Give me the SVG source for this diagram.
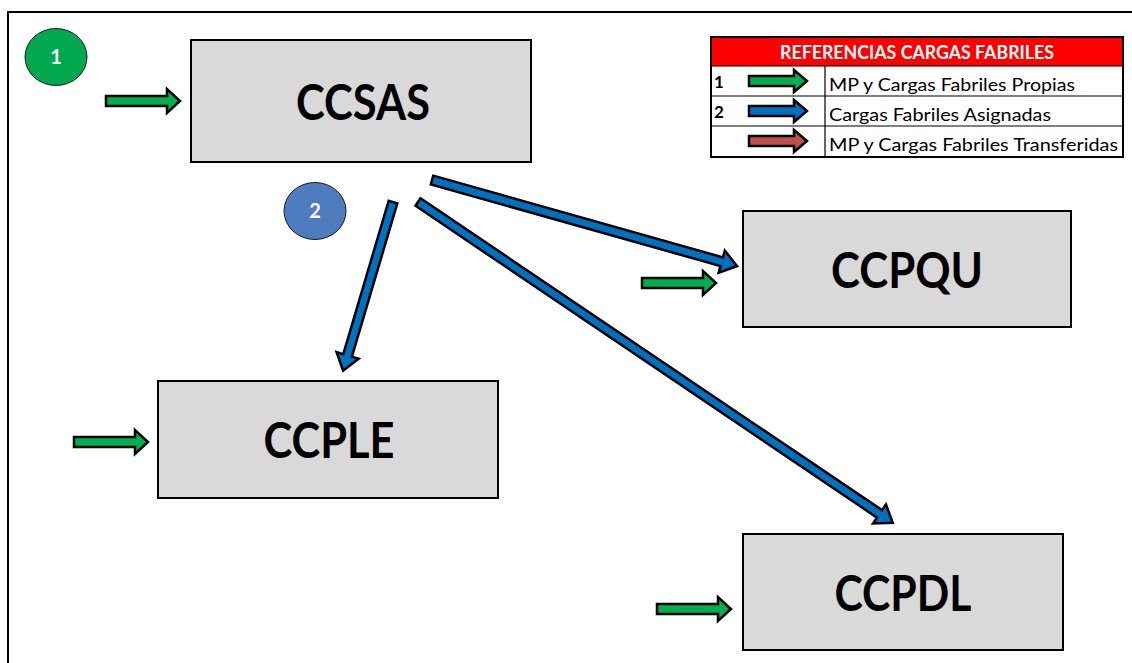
<svg xmlns="http://www.w3.org/2000/svg" width="1132" height="663" viewBox="0 0 1132 663">
<style>
.box{fill:#D9D9D9;stroke:#000;stroke-width:2}
.lbl{font-family:Lato,"Liberation Sans",sans-serif;font-weight:bold;font-size:50px;fill:#000}
.green{fill:#00B050;stroke:#000;stroke-width:2.5;stroke-linejoin:miter}
.blue{fill:#0070C0;stroke:#000;stroke-width:2.5;stroke-linejoin:miter}
.red{fill:#C0504D;stroke:#000;stroke-width:2.5;stroke-linejoin:miter}
.lg{font-family:Lato,"Liberation Sans",sans-serif;font-size:17px;fill:#000}
.num{font-family:Lato,"Liberation Sans",sans-serif;font-weight:bold;font-size:17px;fill:#000}
.tl{fill:none;stroke:#000;stroke-width:1.2}
</style>
<rect x="0" y="0" width="1132" height="663" fill="#fff"/>
<path d="M8 663 V12 H1132" fill="none" stroke="#000" stroke-width="2"/>

<g id="badge1">
<ellipse cx="56" cy="57" rx="31" ry="28.5" fill="#00A94F" stroke="#1a1a1a" stroke-width="1"/>
<text x="56" y="64" text-anchor="middle" font-family="Lato,'Liberation Sans',sans-serif" font-weight="bold" font-size="20" fill="#fff">1</text>
</g>
<g id="badge2">
<ellipse cx="315" cy="211" rx="31" ry="28.5" fill="#4F7CBE" stroke="#1a1a1a" stroke-width="1"/>
<text x="315" y="218" text-anchor="middle" font-family="Lato,'Liberation Sans',sans-serif" font-weight="bold" font-size="20" fill="#fff">2</text>
</g>

<g id="CCSAS">
<rect class="box" x="191" y="40" width="340" height="122"/>
<text class="lbl" x="363" y="120" text-anchor="middle" textLength="134" lengthAdjust="spacingAndGlyphs">CCSAS</text>
</g>
<g id="CCPQU">
<rect class="box" x="743" y="211" width="328" height="116"/>
<text class="lbl" x="907" y="288" text-anchor="middle" textLength="152" lengthAdjust="spacingAndGlyphs">CCPQU</text>
</g>
<g id="CCPLE">
<rect class="box" x="158" y="381" width="340" height="117"/>
<text class="lbl" x="329" y="458" text-anchor="middle" textLength="131" lengthAdjust="spacingAndGlyphs">CCPLE</text>
</g>
<g id="CCPDL">
<rect class="box" x="743" y="534" width="320" height="116"/>
<text class="lbl" x="903" y="611" text-anchor="middle" textLength="137" lengthAdjust="spacingAndGlyphs">CCPDL</text>
</g>

<g id="connectors">
<polygon class="green" points="106,96 167,96 167,89 180,101 167,113 167,106 106,106"/>
<polygon class="green" points="642,278 703,278 703,271 716,283 703,295 703,288 642,288"/>
<polygon class="green" points="74,437 135,437 135,430 148,442 135,454 135,447 74,447"/>
<polygon class="green" points="657,604 718,604 718,597 731,609 718,621 718,614 657,614"/>
<polygon class="blue" transform="translate(432,180) rotate(15.75)" points="0,-4.5 301,-4.5 301,-11.5 317,0 301,11.5 301,4.5 0,4.5"/>
<polygon class="blue" transform="translate(393,202) rotate(106.48)" points="0,-4.5 160,-4.5 160,-11.5 176,0 160,11.5 160,4.5 0,4.5"/>
<polygon class="blue" transform="translate(418,202) rotate(34.05)" points="0,-4.5 557,-4.5 557,-11.5 573,0 557,11.5 557,4.5 0,4.5"/>
</g>

<g id="legend">
<rect x="711" y="37" width="412" height="29" fill="#FF0000"/>
<text x="917" y="59" text-anchor="middle" font-family="Lato,'Liberation Sans',sans-serif" font-weight="bold" font-size="18" fill="#fff" textLength="274" lengthAdjust="spacingAndGlyphs">REFERENCIAS CARGAS FABRILES</text>
<line class="tl" x1="711" y1="66" x2="1123" y2="66"/>
<line class="tl" x1="711" y1="96" x2="1123" y2="96"/>
<line class="tl" x1="711" y1="126" x2="1123" y2="126"/>
<line class="tl" x1="825" y1="66" x2="825" y2="157"/>
<rect x="711" y="37" width="412" height="120" fill="none" stroke="#000" stroke-width="2"/>
<text class="num" x="714" y="88">1</text>
<text class="num" x="714" y="118">2</text>
<polygon class="green" points="749,76 794,76 794,70 807,81 794,92 794,86 749,86"/>
<polygon class="blue" points="749,106 794,106 794,100 807,111 794,122 794,116 749,116"/>
<polygon class="red" points="749,136 794,136 794,130 807,141 794,152 794,146 749,146"/>
<text class="lg" x="829" y="91" textLength="246" lengthAdjust="spacingAndGlyphs">MP y Cargas Fabriles Propias</text>
<text class="lg" x="829" y="121" textLength="222" lengthAdjust="spacingAndGlyphs">Cargas Fabriles Asignadas</text>
<text class="lg" x="829" y="151" textLength="289" lengthAdjust="spacingAndGlyphs">MP y Cargas Fabriles Transferidas</text>
</g>
</svg>
